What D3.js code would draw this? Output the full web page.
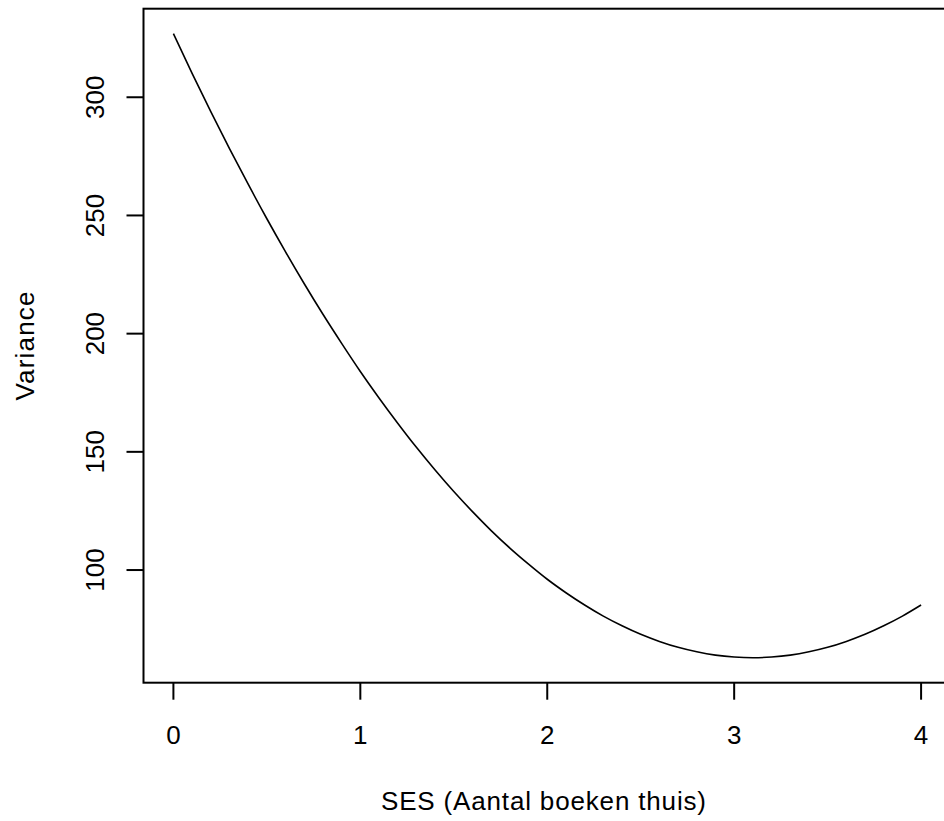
<!DOCTYPE html>
<html>
<head>
<meta charset="utf-8">
<script src="https://cdn.jsdelivr.net/npm/d3@7"></script>
<style>
html,body{margin:0;padding:0;background:#fff;overflow:hidden;}
svg{display:block;}
text{font-family:"Liberation Sans",Arial,sans-serif;fill:#000;}
</style>
</head>
<body>
<svg id="chart" width="944" height="821"></svg>
<script>
const sesValues = [0,0.1,0.2,0.3,0.4,0.5,0.6,0.7,0.8,0.9,1,1.1,1.2,1.3,1.4,1.5,1.6,1.7,1.8,1.9,2,2.1,2.2,2.3,2.4,2.5,2.6,2.7,2.8,2.9,3,3.1,3.2,3.3,3.4,3.5,3.6,3.7,3.8,3.9,4];
const varianceValues = [326.9,310.1,293.9,278.3,263.2,248.6,234.6,221.1,208.2,195.9,184.0,172.8,162.1,151.9,142.3,133.2,124.7,116.7,109.3,102.5,96.1,90.4,85.2,80.5,76.4,72.8,69.8,67.3,65.4,64.0,63.2,62.9,63.2,64.0,65.4,67.3,69.8,72.8,76.4,80.5,85.2];
const xTicks = [0,1,2,3,4];
const yTicks = [100,150,200,250,300];
const xTitle = "SES (Aantal boeken thuis)";
const yTitle = "Variance";

(function () {
const svg = d3.select("#chart");
const pL = 143.5, pR = 951, pT = 8.7, pB = 682.7;

const x = d3.scaleLinear().domain([-0.16, 4.16]).range([pL, pR]);
const y = d3.scaleLinear().domain([52.34, 337.46]).range([pB, pT]);

// box
svg.append("rect").attr("x", pL).attr("y", pT)
  .attr("width", pR - pL).attr("height", pB - pT)
  .attr("fill", "none").attr("stroke", "#000").attr("stroke-width", 2);

// x axis ticks
const xAxis = svg.append("g");
xAxis.selectAll("line").data(xTicks).join("line")
  .attr("x1", d => x(d)).attr("x2", d => x(d))
  .attr("y1", pB).attr("y2", pB + 17)
  .attr("stroke", "#000").attr("stroke-width", 2);
xAxis.selectAll("text").data(xTicks).join("text")
  .attr("x", d => x(d)).attr("y", 744)
  .attr("text-anchor", "middle").attr("font-size", 26)
  .text(d => d);

// y axis ticks
const yAxis = svg.append("g");
yAxis.selectAll("line").data(yTicks).join("line")
  .attr("x1", pL - 17).attr("x2", pL)
  .attr("y1", d => y(d)).attr("y2", d => y(d))
  .attr("stroke", "#000").attr("stroke-width", 2);
yAxis.selectAll("text").data(yTicks).join("text")
  .attr("transform", d => `translate(103.5,${y(d)}) rotate(-90)`)
  .attr("text-anchor", "middle").attr("font-size", 26)
  .text(d => d);

// titles
svg.append("text").attr("x", 543.5).attr("y", 810)
  .attr("text-anchor", "middle").attr("font-size", 26)
  .attr("textLength", 325).attr("lengthAdjust", "spacing").text(xTitle);
svg.append("text").attr("transform", `translate(33.5,346) rotate(-90)`)
  .attr("text-anchor", "middle").attr("font-size", 26)
  .attr("textLength", 109).attr("lengthAdjust", "spacing").text(yTitle);

// curve
const pts = sesValues.map((s, i) => [s, varianceValues[i]]);
svg.append("path").datum(pts)
  .attr("fill", "none").attr("stroke", "#000").attr("stroke-width", 1.6)
  .attr("d", d3.line().x(d => x(d[0])).y(d => y(d[1])).curve(d3.curveMonotoneX));
})();
</script>
</body>
</html>
